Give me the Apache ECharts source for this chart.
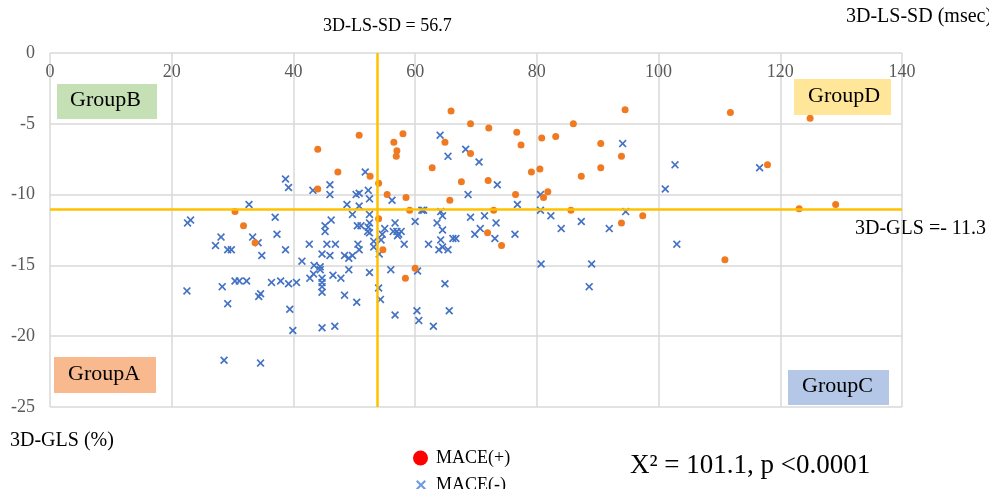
<!DOCTYPE html>
<html>
<head>
<meta charset="utf-8">
<script src="https://cdn.jsdelivr.net/npm/echarts@6/dist/echarts.min.js"></script>
<style>
  html, body { margin: 0; padding: 0; background: #fff; }
  #chart { width: 989px; height: 489px; }
</style>
</head>
<body>
<div id="chart"></div>
<script>
  // 3D-LS-SD (x) vs 3D-GLS (y)
  var macePlus = [
    [44.0, -6.8], [44.0, -9.6], [30.4, -11.2], [31.8, -12.2], [33.7, -13.4],
    [50.8, -5.8], [47.3, -8.4], [52.6, -8.7], [54.0, -9.2], [56.5, -6.3],
    [57.0, -6.9], [56.9, -7.3], [58.0, -5.7], [55.4, -10.0], [58.5, -10.2],
    [59.1, -11.1], [65.9, -4.1], [69.1, -5.0], [64.9, -6.3], [69.1, -7.1],
    [62.8, -8.1], [67.6, -9.1], [65.7, -10.4], [72.1, -5.3], [72.0, -9.0],
    [72.9, -11.1], [76.7, -5.6], [77.4, -6.5], [76.5, -10.0], [79.1, -8.4],
    [80.5, -8.2], [80.8, -6.0], [83.1, -5.9], [81.8, -9.8], [81.1, -10.2],
    [86.0, -5.0], [87.3, -8.7], [85.6, -11.1], [90.5, -6.4], [90.5, -8.1],
    [94.5, -4.0], [93.9, -7.3], [97.4, -11.5], [111.8, -4.2], [124.9, -4.6],
    [117.9, -7.9], [123.1, -11.0], [129.1, -10.7], [110.9, -14.6], [54.0, -11.7],
    [71.9, -12.7], [74.2, -13.6], [93.9, -12.0], [54.7, -13.9], [60.0, -15.2],
    [58.4, -15.9]
  ];

  var maceMinus = [
    [22.5, -16.8], [22.6, -12.0], [23.1, -11.8], [28.1, -13.0], [27.2, -13.6],
    [29.2, -13.9], [29.8, -13.9], [32.7, -10.7], [33.3, -13.0], [34.2, -13.4],
    [34.8, -14.3], [37.0, -11.6], [37.3, -12.8], [38.7, -13.9], [38.7, -8.9],
    [39.2, -9.5], [43.2, -9.7], [46.0, -9.3], [46.0, -10.0],
    [41.4, -14.7], [42.6, -13.5], [43.4, -15.0], [44.4, -15.1], [44.4, -15.3],
    [43.3, -15.6], [42.7, -15.9], [44.7, -15.9], [44.7, -16.2], [44.7, -16.5],
    [44.7, -16.9], [44.7, -19.4], [45.2, -12.2], [45.2, -12.6], [45.5, -13.5],
    [44.7, -14.2], [46.0, -14.3],
    [28.3, -16.5], [29.2, -17.7], [30.4, -16.1], [31.1, -16.1], [32.3, -16.1],
    [34.3, -17.2], [34.6, -17.0], [36.4, -16.2], [37.9, -16.1], [39.2, -16.3],
    [40.5, -16.2], [39.4, -18.1], [39.9, -19.6], [28.6, -21.7], [34.6, -21.9],
    [46.2, -11.8], [46.9, -13.5], [48.4, -14.3], [49.1, -14.5], [49.7, -14.3],
    [46.5, -15.7], [47.8, -15.9], [49.1, -15.3], [48.4, -17.1], [50.4, -17.6],
    [46.8, -19.3],
    [51.8, -8.4], [50.3, -10.0], [50.8, -9.9], [52.3, -9.7], [52.5, -10.3],
    [56.2, -10.4], [48.8, -10.7], [50.8, -10.8], [49.7, -11.4], [52.5, -11.4],
    [50.5, -12.2], [51.1, -12.2], [52.5, -12.0], [52.3, -12.3], [52.2, -12.6],
    [52.5, -12.7], [50.6, -13.5], [50.8, -13.9], [53.2, -13.3], [53.2, -13.7],
    [54.4, -13.2], [54.1, -14.2], [55.0, -12.4], [54.6, -12.8], [56.7, -12.0],
    [56.4, -12.6], [57.0, -12.6], [57.3, -12.8], [57.7, -12.6], [57.1, -12.9],
    [58.2, -13.5], [60.0, -11.9], [61.1, -11.1], [61.4, -11.1], [64.2, -11.2],
    [64.5, -11.5], [63.6, -12.0], [64.5, -12.5], [64.2, -13.2], [63.9, -13.9],
    [64.5, -13.7], [65.4, -13.9], [62.2, -13.5], [66.2, -13.1], [66.7, -13.1],
    [69.1, -11.6], [71.4, -11.5], [69.8, -12.8], [70.7, -12.4], [73.3, -12.0],
    [73.1, -13.1],
    [64.1, -5.8], [65.4, -7.3], [68.3, -6.8], [70.5, -7.7], [73.5, -9.3],
    [68.7, -10.0], [76.8, -10.7], [80.6, -10.0], [80.6, -11.1], [82.3, -11.5],
    [76.4, -12.8], [84.0, -12.4], [87.3, -11.9], [91.9, -12.4], [94.6, -11.2],
    [94.1, -6.4], [80.7, -14.9], [89.0, -14.9], [88.6, -16.5], [102.7, -7.9],
    [101.1, -9.6], [116.6, -8.1], [103.0, -13.5],
    [54.0, -16.6], [54.3, -17.4], [56.0, -15.3], [60.4, -15.4], [64.9, -16.3],
    [52.5, -15.5], [56.7, -18.5], [60.3, -18.2], [60.6, -18.9], [65.6, -18.2],
    [63.0, -19.3]
  ];

  // cut-off lines (drawn where they sit in the picture)
  var cutX = 53.7;
  var cutY = -11.0;

  var serif = '"Liberation Serif", "DejaVu Serif", serif';
  var cross = 'path://M1.5,0 L5,3.5 L8.5,0 L10,1.5 L6.5,5 L10,8.5 L8.5,10 L5,6.5 L1.5,10 L0,8.5 L3.5,5 L0,1.5 Z';

  var myChart = echarts.init(document.getElementById('chart'));

  myChart.setOption({
    animation: false,
    grid: { left: 50, right: 87, top: 53, bottom: 82 },
    xAxis: {
      type: 'value',
      position: 'top',
      min: 0, max: 140, interval: 20,
      axisLine: { show: false },
      axisTick: { show: false },
      axisLabel: { inside: true, margin: 10, color: '#595959', fontSize: 18, fontFamily: serif },
      splitLine: { lineStyle: { color: '#d9d9d9', width: 1.5 } }
    },
    yAxis: {
      type: 'value',
      min: -25, max: 0, interval: 5,
      axisLine: { show: false },
      axisTick: { show: false },
      axisLabel: { margin: 15, color: '#595959', fontSize: 18, fontFamily: serif },
      splitLine: { lineStyle: { color: '#d9d9d9', width: 1.5 } }
    },
    legend: [
      {
        orient: 'vertical', left: 408, top: 444,
        itemWidth: 15, itemHeight: 15,
        textStyle: { fontFamily: serif, fontSize: 18, color: '#000', padding: [0, 0, 0, 3] },
        data: [{ name: 'MACE(+)', icon: 'circle', itemStyle: { color: '#ff0000' } }]
      },
      {
        orient: 'vertical', left: 411, top: 471,
        itemWidth: 10, itemHeight: 10,
        textStyle: { fontFamily: serif, fontSize: 18, color: '#000', padding: [0, 0, 0, 5] },
        data: [{ name: 'MACE(-)', icon: cross, itemStyle: { color: '#6f9be0' } }]
      }
    ],
    series: [
      {
        name: 'MACE(-)',
        type: 'scatter',
        symbol: cross,
        symbolSize: 8,
        itemStyle: { color: '#4472c4', opacity: 1 },
        data: maceMinus,
        z: 3
      },
      {
        name: 'MACE(+)',
        type: 'scatter',
        symbol: 'circle',
        symbolSize: 7,
        itemStyle: { color: '#f07a22', opacity: 1 },
        data: macePlus,
        z: 4,
        markLine: {
          silent: true,
          symbol: 'none',
          label: { show: false },
          lineStyle: { color: '#ffc000', width: 2.5, type: 'solid' },
          data: [{ xAxis: cutX }, { yAxis: cutY }]
        }
      }
    ],
    graphic: [
      { type: 'rect', left: 57, top: 84, shape: { width: 100, height: 35 }, style: { fill: '#c5e0b4' }, z: 10 },
      { type: 'text', left: 70, top: 89, style: { text: 'GroupB', font: '22px ' + serif, fill: '#000' }, z: 11 },
      { type: 'rect', left: 794, top: 79, shape: { width: 97, height: 36 }, style: { fill: '#ffe699' }, z: 10 },
      { type: 'text', left: 808, top: 85, style: { text: 'GroupD', font: '22px ' + serif, fill: '#000' }, z: 11 },
      { type: 'rect', left: 54, top: 357, shape: { width: 102, height: 36 }, style: { fill: '#f8b98e' }, z: 10 },
      { type: 'text', left: 68, top: 363, style: { text: 'GroupA', font: '22px ' + serif, fill: '#000' }, z: 11 },
      { type: 'rect', left: 788, top: 370, shape: { width: 101, height: 35 }, style: { fill: '#b4c7e7' }, z: 10 },
      { type: 'text', left: 802, top: 375, style: { text: 'GroupC', font: '22px ' + serif, fill: '#000' }, z: 11 },
      { type: 'text', left: 323, top: 17, style: { text: '3D-LS-SD = 56.7', font: '18px ' + serif, fill: '#000' } },
      { type: 'text', left: 846, top: 7, style: { text: '3D-LS-SD (msec)', font: '20px ' + serif, fill: '#000' } },
      { type: 'text', left: 855, top: 219, style: { text: '3D-GLS =- 11.3', font: '20px ' + serif, fill: '#000' } },
      { type: 'text', left: 10, top: 431, style: { text: '3D-GLS (%)', font: '20px ' + serif, fill: '#000' } },
      { type: 'text', left: 630, top: 452, style: { text: 'X² = 101.1, p <0.0001', font: '27px ' + serif, fill: '#000' } }
    ]
  });
</script>
</body>
</html>
